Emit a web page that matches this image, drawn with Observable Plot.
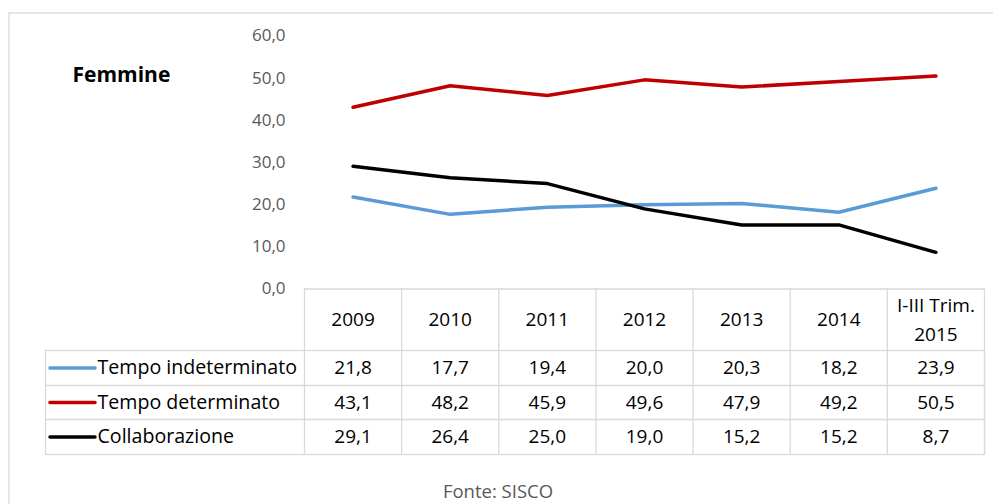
<!DOCTYPE html>
<html>
<head>
<meta charset="utf-8">
<script src="https://cdn.jsdelivr.net/npm/d3@7"></script>
<script src="https://cdn.jsdelivr.net/npm/@observablehq/plot@0.6"></script>
<style>
  html, body { margin: 0; padding: 0; background: #fff; }
  #chart { width: 993px; height: 504px; }
</style>
</head>
<body>
<div id="chart"></div>
<script>
// ---- data ----
const categories = ["2009", "2010", "2011", "2012", "2013", "2014", "I-III Trim.\n2015"];
const seriesNames = ["Tempo indeterminato", "Tempo determinato", "Collaborazione"];
const indeterminato = [21.8, 17.7, 19.4, 20.0, 20.3, 18.2, 23.9];
const determinato = [43.1, 48.2, 45.9, 49.6, 47.9, 49.2, 50.5];
const collaborazione = [29.1, 26.4, 25.0, 19.0, 15.2, 15.2, 8.7];
const yTicks = [0, 10, 20, 30, 40, 50, 60];
const chartTitle = "Femmine";
const sourceNote = "Fonte: SISCO";

// ---- styles / layout ----
const colors = ["#5b9bd5", "#c00000", "#000000"];
const grid = "#d9d9d9";
const W = 993, H = 504;
const mTop = 35.5, mBottom = H - 288.5, mLeft = 45, mRight = 9;
const colLeft = 304, tableRight = 984;
const headerCenter = 31, headerBottom = 61.5;
const rowLines = [96.5, 130.5];
const tableBottom = 165.5;
const rowCenters = [79, 113.5, 148];
const font = "Open Sans";

const seriesValues = [indeterminato, determinato, collaborazione];
const rows = seriesNames.flatMap((s, k) =>
  seriesValues[k].map((v, i) => ({series: s, k, i, value: v})));
const header = categories.map((c, i) => ({c, i, multi: c.includes("\n")}));
const fmt = v => v.toFixed(1).replace(".", ",");
const zero = () => 0;

const marks = [
  // outer chart border
  Plot.frame({stroke: grid, strokeWidth: 1.3,
    insetLeft: -(mLeft - 8.5), insetTop: -(mTop - 12.5), insetRight: -40, insetBottom: -(mBottom + 40)}),
  // table: data rows box
  Plot.frame({stroke: grid, strokeWidth: 1.3,
    insetTop: (H - mBottom - mTop) + headerBottom, insetBottom: -tableBottom}),
  // header top line
  Plot.ruleY([0], {x1: 0, x2: categories.length, stroke: grid, strokeWidth: 1.3}),
  ...rowLines.map(dy => Plot.ruleY([0], {dy, stroke: grid, strokeWidth: 1.3})),
  // column separators
  Plot.ruleX(d3.range(0, categories.length + 1), {stroke: grid, strokeWidth: 1.3,
    insetTop: H - mBottom - mTop, insetBottom: -tableBottom}),

  // y axis
  Plot.axisY(yTicks, {tickSize: 0, tickPadding: 0, dx: 285 - mLeft, tickFormat: fmt,
    fill: "#595959", fontSize: 17, label: null}),

  // lines
  Plot.line(rows, {x: d => d.i + 0.5, y: "value", z: "series", stroke: "series",
    strokeWidth: 3.5, strokeLinecap: "round", strokeLinejoin: "round"}),

  // header labels (single-line and two-line)
  Plot.text(header.filter(d => !d.multi), {x: d => d.i + 0.5, y: zero, dy: headerCenter, text: "c",
    fontSize: 19, fill: "#000", lineAnchor: "middle"}),
  Plot.text(header.filter(d => d.multi), {x: d => d.i + 0.5, y: zero, dy: headerCenter - 2.5, text: "c",
    fontSize: 19, fill: "#000", lineHeight: 1.53, lineAnchor: "middle"}),

  // table values
  ...seriesNames.map((s, k) => Plot.text(rows.filter(d => d.k === k), {
    x: d => d.i + 0.5, y: zero, dy: rowCenters[k], text: d => fmt(d.value),
    fontSize: 19, fill: "#000"})),

  // legend swatches + names
  ...seriesNames.map((s, k) => Plot.ruleY([0], {dy: rowCenters[k], insetLeft: 5,
    insetRight: tableRight - 95, stroke: colors[k], strokeWidth: 3.5, strokeLinecap: "round"})),
  ...seriesNames.map((s, k) => Plot.text([s], {frameAnchor: "left", y: zero, dy: rowCenters[k],
    dx: 97 - mLeft, textAnchor: "start", fontSize: 19.6, fill: "#000"})),

  // title
  Plot.text([chartTitle], {frameAnchor: "top-left", dx: 72 - mLeft, dy: 75 - mTop,
    textAnchor: "start", lineAnchor: "middle", fontSize: 21, fontWeight: "bold", fill: "#000"}),

  // source
  Plot.text([sourceNote], {frameAnchor: "bottom", dx: 497.5 - (mLeft + (W - mRight)) / 2, dy: 203,
    lineAnchor: "middle", fontSize: 18.5, fill: "#595959"})
];

const chart = Plot.plot({
  width: W, height: H,
  marginTop: mTop, marginBottom: mBottom, marginLeft: mLeft, marginRight: mRight,
  style: {fontFamily: font, background: "#fff", overflow: "hidden"},
  x: {type: "linear", domain: [0, categories.length], range: [colLeft, tableRight], axis: null},
  y: {domain: [0, 60], label: null},
  color: {domain: seriesNames, range: colors},
  marks
});
document.getElementById("chart").appendChild(chart);
</script>
</body>
</html>
